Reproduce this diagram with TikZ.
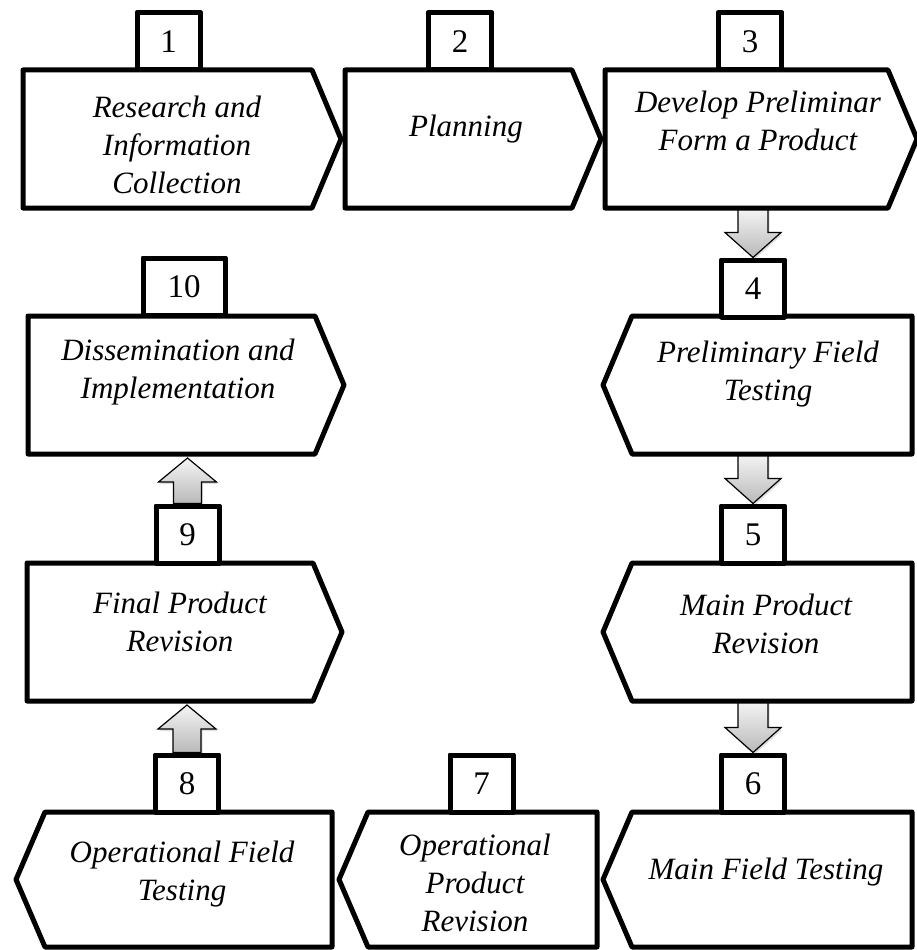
\documentclass[tikz,border=0pt]{standalone}
\usepackage{fontspec}
\setmainfont{Liberation Serif}
\usetikzlibrary{calc,shadows}

\tikzset{
  stepbody/.style={rectangle, inner sep=0pt, outer sep=0pt, minimum height=138pt},
  stepline/.style={line width=5pt, line join=round, fill=white},
  steptext/.style={align=center, inner sep=0pt, font=\fontsize{31}{38}\selectfont\itshape},
  numbox/.style={draw, line width=5pt, line join=round, fill=white, minimum width=63pt,
    minimum height=57pt, inner sep=0pt, font=\fontsize{33}{40}\selectfont},
  blockarrow/.style={draw=black, line width=1.2pt, top color=gray!8, bottom color=gray!55,
    drop shadow={opacity=0.25, shadow xshift=1.5pt, shadow yshift=-2pt}},
}

\begin{document}
\begin{tikzpicture}[x=1pt,y=-1pt]
  \useasboundingbox (0,0) rectangle (916,950);

  % 矩形主体
  \node[stepbody, minimum width=289pt] (s1) at (167.5,139) {};
  \node[stepbody, minimum width=227pt] (s2) at (458.5,139) {};
  \node[stepbody, minimum width=283pt] (s3) at (746.5,139) {};
  \node[stepbody, minimum width=287pt] (s10) at (171.5,385) {};
  \node[stepbody, minimum width=280pt] (s4) at (772,385) {};
  \node[stepbody, minimum width=286pt] (s9) at (170,632) {};
  \node[stepbody, minimum width=280pt] (s5) at (772,632) {};
  \node[stepbody, minimum width=287pt, minimum height=135pt] (s8) at (188.5,879.5) {};
  \node[stepbody, minimum width=229pt, minimum height=135pt] (s7) at (482.5,879.5) {};
  \node[stepbody, minimum width=280pt, minimum height=135pt] (s6) at (772,879.5) {};

  % 编号
  \node[numbox] (n1) at (168.5,41.5) {1};
  \node[numbox] (n2) at (460,41.5) {2};
  \node[numbox] (n3) at (750,41.5) {3};
  \node[numbox] (n4) at (753,288.5) {4};
  \node[numbox] (n5) at (753,534.5) {5};
  \node[numbox] (n6) at (753,783.5) {6};
  \node[numbox] (n7) at (481.5,783.5) {7};
  \node[numbox] (n8) at (187,783.5) {8};
  \node[numbox] (n9) at (187.5,534.5) {9};
  \node[numbox, minimum width=82pt] (n10) at (184,286.5) {10};

  % 箭头:向下
  \foreach \a/\b in {s3/n4, s4/n5, s5/n6}
    \draw[blockarrow] let \p1=(\a.south), \p2=(\b.north) in
      (\x2-15pt,\y1) -- (\x2+15pt,\y1) -- (\x2+15pt,\y2+25pt) -- (\x2+28pt,\y2+25pt)
      -- (\x2,\y2) -- (\x2-28pt,\y2+25pt) -- (\x2-15pt,\y2+25pt) -- cycle;
  % 箭头:向上
  \foreach \a/\b in {n9/s10, n8/s9}
    \draw[blockarrow] let \p1=(\a.north), \p2=(\b.south) in
      (\x1-14pt,\y1) -- (\x1-14pt,\y2-28pt) -- (\x1-29pt,\y2-28pt) -- (\x1,\y2-4pt)
      -- (\x1+29pt,\y2-28pt) -- (\x1+14pt,\y2-28pt) -- (\x1+14pt,\y1) -- cycle;

  % 五边形:向右
  \foreach \n in {s1, s2, s3, s10, s9}
    \draw[stepline] (\n.north west) -- (\n.north east) -- ([xshift=29pt]\n.east)
      -- (\n.south east) -- (\n.south west) -- cycle;
  % 五边形:向左
  \foreach \n in {s4, s5, s6, s7, s8}
    \draw[stepline] (\n.north east) -- (\n.north west) -- ([xshift=-29pt]\n.west)
      -- (\n.south west) -- (\n.south east) -- cycle;

  % 编号重画在上层
  \foreach \n/\t in {n1/1, n2/2, n3/3, n4/4, n5/5, n6/6, n7/7, n8/8, n9/9}
    \node[numbox] at (\n) {\t};
  \node[numbox, minimum width=82pt] at (n10) {10};

  % 文字
  \node[steptext] (t1) at (177,145) {Research and\\Information\\Collection};
  \node[steptext] (t2) at (466,129) {Planning};
  \node[steptext] (t3) at (758,121) {Develop Preliminar\\Form a Product};
  \node[steptext] (t10) at (178,372) {Dissemination and\\Implementation};
  \node[steptext] (t4) at (768,374) {Preliminary Field\\Testing};
  \node[steptext] (t9) at (180,622) {Final Product\\Revision};
  \node[steptext] (t5) at (766,624) {Main Product\\Revision};
  \node[steptext] (t8) at (182,874) {Operational Field\\Testing};
  \node[steptext] (t7) at (475,883) {Operational\\Product\\Revision};
  \node[steptext] (t6) at (766,872) {Main Field Testing};

\end{tikzpicture}
\end{document}
